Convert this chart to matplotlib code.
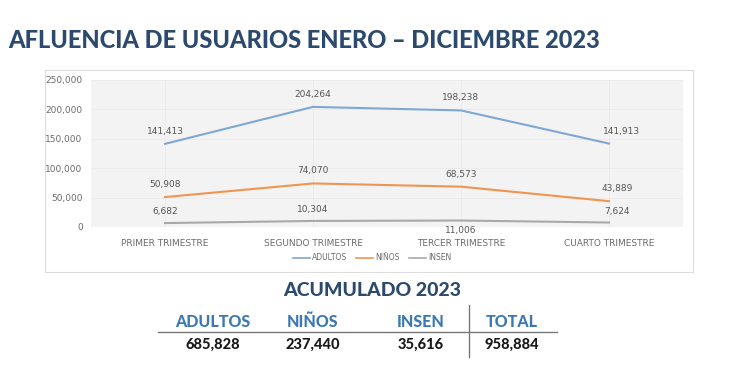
import matplotlib
matplotlib.use("Agg")
import matplotlib.pyplot as plt
from matplotlib.lines import Line2D

categories = ["PRIMER TRIMESTRE", "SEGUNDO TRIMESTRE", "TERCER TRIMESTRE", "CUARTO TRIMESTRE"]
adultos = [141413, 204264, 198238, 141913]
ninos = [50908, 74070, 68573, 43889]
insen = [6682, 10304, 11006, 7624]
series_names = ["ADULTOS", "NIÑOS", "INSEN"]
yticks = [0, 50000, 100000, 150000, 200000, 250000]

tot_labels = ["ADULTOS", "NIÑOS", "INSEN", "TOTAL"]
tot_values = ["685,828", "237,440", "35,616", "958,884"]

FAM = ["Lato", "DejaVu Sans"]

fig = plt.figure(figsize=(7.5, 3.75), dpi=100)
fig.patch.set_facecolor("white")

# title
fig.text(8/750, 1 - 40/375, "AFLUENCIA DE USUARIOS ENERO – DICIEMBRE 2023",
         fontsize=17, fontweight="black", family=FAM,
         color="#2c4a6e", ha="left", va="center")

# chart frame (background axes)
frame = fig.add_axes([45/750, 1 - 272/375, 648/750, 202/375], zorder=-5)
frame.set_xticks([]); frame.set_yticks([])
frame.set_facecolor("white")
for s in frame.spines.values():
    s.set_color("#dcdcdc"); s.set_linewidth(0.8)

ax = fig.add_axes([91/750, 1 - 227/375, 592/750, 147/375], zorder=1)
ax.set_facecolor("#f3f3f3")
for s in ax.spines.values():
    s.set_visible(False)
ax.set_xlim(-0.5, 3.5)
ax.set_ylim(0, 250000)
ax.set_yticks(yticks)
ax.set_yticklabels([f"{v:,}" for v in yticks], fontsize=6.5, color="#6b6b6b")
ax.set_xticks(range(len(categories)))
ax.set_xticklabels(categories, fontsize=6.5, color="#6b6b6b")
ax.tick_params(length=0, pad=6)
ax.tick_params(axis="x", pad=9)
ax.grid(True, color="#e8e8e8", lw=0.5)
ax.set_axisbelow(True)

x = list(range(len(categories)))
colors = ["#7fa7d4", "#f0954f", "#a9a9a9"]
for vals, c, name in zip([adultos, ninos, insen], colors, series_names):
    ax.plot(x, vals, color=c, lw=1.5, label=name)

def lab(xi, yi, text, dy=9, dx=0):
    ax.annotate(text, (xi, yi), xytext=(dx, dy), textcoords="offset points",
                ha="center", va="center", fontsize=6.5, color="#555555")

for i, v in enumerate(adultos):
    lab(i, v, f"{v:,}", dy=9, dx=(9 if i == 3 else 0))
for i, v in enumerate(ninos):
    lab(i, v, f"{v:,}", dy=9, dx=(6 if i == 3 else 0))
for i, v in enumerate(insen):
    if i == 2:
        lab(i, v, f"{v:,}", dy=-7)
    else:
        lab(i, v, f"{v:,}", dy=8, dx=(6 if i == 3 else 0))

handles = [Line2D([], [], color=c, lw=1.2) for c in colors]
fig.legend(handles, series_names, loc="center", bbox_to_anchor=(372/750, 1 - 258/375),
           ncol=3, frameon=False, fontsize=5.5, handlelength=2.2, handletextpad=0.3,
           columnspacing=1.2, labelcolor="#6b6b6b")

# accumulated table
fig.text(372/750, 1 - 291/375, "ACUMULADO 2023", fontsize=14, fontweight="black",
         family=FAM, color="#2c4a6e", ha="center", va="center")
xs = [213, 313, 421, 512]
for xp, l, v in zip(xs, tot_labels, tot_values):
    fig.text(xp/750, 1 - 322/375, l, fontsize=11.5, fontweight="black",
             family=FAM, color="#3b78b4", ha="center", va="center")
    fig.text(xp/750, 1 - 345/375, v, fontsize=10.5, fontweight="black",
             family=FAM, color="#1a1a1a", ha="center", va="center")
fig.lines.append(Line2D([158/750, 557/750], [1 - 332/375, 1 - 332/375],
                        transform=fig.transFigure, color="#777777", lw=1.0))
fig.lines.append(Line2D([469/750, 469/750], [1 - 305/375, 1 - 357/375],
                        transform=fig.transFigure, color="#777777", lw=1.0))

fig.savefig("out.png", dpi=100)
